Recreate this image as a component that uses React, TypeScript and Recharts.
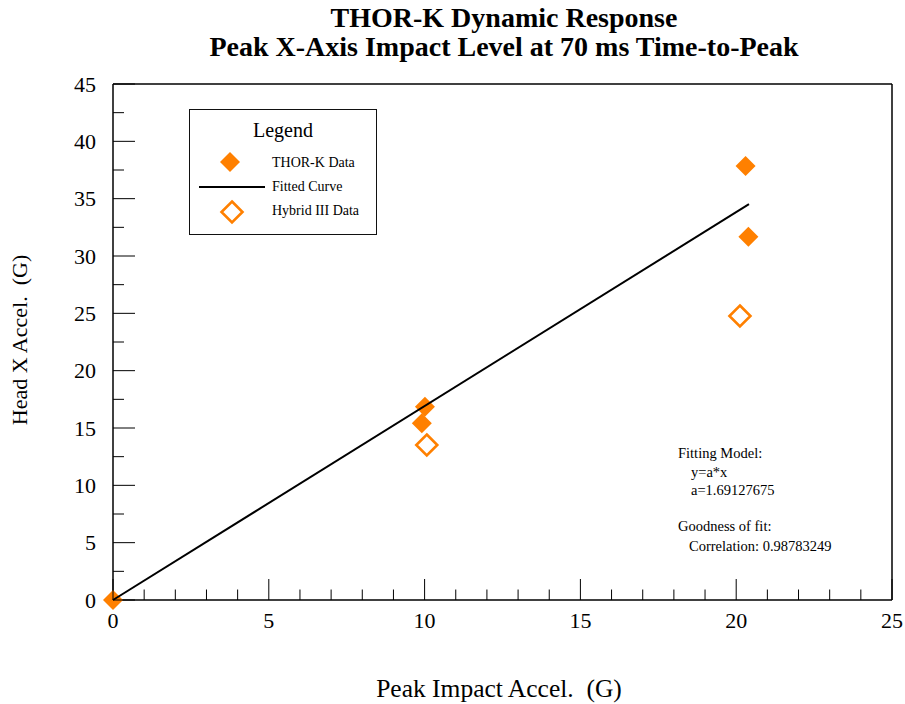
import React from 'react';
import { ComposedChart, Scatter, XAxis, YAxis, ReferenceLine, Legend } from 'recharts';

// values
const thorKData = [
  { x: 0, y: 0 },
  { x: 10.01, y: 16.86 },
  { x: 9.91, y: 15.41 },
  { x: 20.3, y: 37.85 },
  { x: 20.39, y: 31.68 },
];

const hybridIIIData = [
  { x: 10.07, y: 13.52 },
  { x: 20.12, y: 24.77 },
];

// fitted curve y = a*x, end points as drawn
const fittedCurve = [
  { x: 0, y: 0 },
  { x: 20.41, y: 34.52 },
];

const xTicks = [0, 1, 2, 3, 4, 5, 6, 7, 8, 9, 10, 11, 12, 13, 14, 15, 16, 17, 18, 19, 20, 21, 22, 23, 24, 25];
const yTicks = [0, 2.5, 5, 7.5, 10, 12.5, 15, 17.5, 20, 22.5, 25, 27.5, 30, 32.5, 35, 37.5, 40, 42.5, 45];

const titleLines = ['THOR-K Dynamic Response', 'Peak X-Axis Impact Level at 70 ms Time-to-Peak'];
const legendLabels = ['THOR-K Data', 'Fitted Curve', 'Hybrid III Data'];
const fitNotes = ['Fitting Model:', 'y=a*x', 'a=1.69127675', 'Goodness of fit:', 'Correlation: 0.98783249'];

const SERIF = '"Liberation Serif", "Times New Roman", serif';
const ORANGE = '#ff8000';

// where each note line sits (left, baseline)
const noteLayout = [
  { left: 678, base: 458 },
  { left: 691, base: 477 },
  { left: 691, base: 495.5 },
  { left: 678, base: 531.5 },
  { left: 689, base: 551.5 },
];

const XTick = (props: any) => {
  const { x, y, payload } = props;
  const v = payload.value;
  const major = v % 5 === 0;
  return (
    <g>
      <line x1={x} x2={x} y1={y} y2={y - (major ? 21 : 10.5)} stroke="#000" strokeWidth={1} />
      {major && (
        <text x={x} y={y + 28} textAnchor="middle" fontSize={22} fontFamily={SERIF} fill="#000">
          {v}
        </text>
      )}
    </g>
  );
};

const YTick = (props: any) => {
  const { x, y, payload } = props;
  const v = payload.value;
  const major = v % 5 === 0;
  return (
    <g>
      <line x1={x} x2={x + (major ? 22 : 11)} y1={y} y2={y} stroke="#000" strokeWidth={1} />
      {major && (
        <text x={x - 17} y={y + 7.7} textAnchor="end" fontSize={22} fontFamily={SERIF} fill="#000">
          {v}
        </text>
      )}
    </g>
  );
};

const diamond = (cx: number, cy: number, r: number) =>
  `${cx},${cy - r} ${cx + r},${cy} ${cx},${cy + r} ${cx - r},${cy}`;

const FilledDiamond = (props: any) => <polygon points={diamond(props.cx, props.cy, 10)} fill={ORANGE} />;

const HollowDiamond = (props: any) => (
  <polygon points={diamond(props.cx, props.cy, 10.5)} fill="#fff" stroke={ORANGE} strokeWidth={2.6} />
);

const NoDot = () => <g />;

const LegendBox = () => (
  <div
    style={{
      width: 188,
      height: 126,
      boxSizing: 'border-box',
      border: '1.5px solid #111',
      background: '#fff',
      position: 'relative',
      fontFamily: SERIF,
      color: '#000',
    }}
  >
    <div style={{ position: 'absolute', left: 0, right: 0, top: 9, textAlign: 'center', fontSize: 20, lineHeight: '22px' }}>
      Legend
    </div>
    <svg width={188} height={126} style={{ position: 'absolute', left: -1.5, top: -1.5 }}>
      <polygon points={diamond(41, 53, 10)} fill={ORANGE} />
      <line x1={10} x2={76} y1={78} y2={78} stroke="#000" strokeWidth={2} />
      <polygon points={diamond(43, 103, 10.5)} fill="#fff" stroke={ORANGE} strokeWidth={2.6} />
    </svg>
    {legendLabels.map((label, i) => (
      <div
        key={label}
        style={{ position: 'absolute', left: 82, top: [45, 69, 93][i], fontSize: 14, lineHeight: '16px', whiteSpace: 'nowrap' }}
      >
        {label}
      </div>
    ))}
  </div>
);

export default function App() {
  return (
    <div
      style={{
        position: 'absolute',
        left: 0,
        top: 0,
        width: 905,
        height: 704,
        overflow: 'hidden',
        background: '#fff',
        fontFamily: SERIF,
        color: '#000',
      }}
    >
      <div
        style={{
          position: 'absolute',
          left: 102,
          width: 804,
          top: 3,
          textAlign: 'center',
          fontWeight: 'bold',
          fontSize: 28,
          lineHeight: '29px',
          whiteSpace: 'nowrap',
        }}
      >
        {titleLines.map((t) => (
          <div key={t}>{t}</div>
        ))}
      </div>

      <ComposedChart width={905} height={704} margin={{ top: 84, right: 13, bottom: 74, left: 53 }}>
        <XAxis
          type="number"
          dataKey="x"
          domain={[0, 25]}
          ticks={xTicks}
          interval={0}
          height={30}
          tickSize={0}
          tickMargin={0}
          tickLine={false}
          tick={<XTick />}
          axisLine={{ stroke: '#000', strokeWidth: 1.5 }}
        />
        <YAxis
          type="number"
          dataKey="y"
          domain={[0, 45]}
          ticks={yTicks}
          interval={0}
          width={60}
          tickSize={0}
          tickMargin={0}
          tickLine={false}
          tick={<YTick />}
          axisLine={{ stroke: '#000', strokeWidth: 1.5 }}
        />
        <ReferenceLine y={45} stroke="#000" strokeWidth={1.5} />
        <ReferenceLine x={25} stroke="#000" strokeWidth={1.5} />
        <Scatter name="THOR-K Data" data={thorKData} shape={<FilledDiamond />} isAnimationActive={false} />
        <Scatter
          name="Fitted Curve"
          data={fittedCurve}
          shape={<NoDot />}
          line={{ stroke: '#000', strokeWidth: 2 }}
          isAnimationActive={false}
        />
        <Scatter name="Hybrid III Data" data={hybridIIIData} shape={<HollowDiamond />} isAnimationActive={false} />
        <Legend
          layout="vertical"
          align="center"
          verticalAlign="middle"
          content={<LegendBox />}
          wrapperStyle={{ left: 189, top: 109, width: 188, height: 126 }}
        />
      </ComposedChart>

      {fitNotes.map((t, i) => (
        <div
          key={t}
          style={{
            position: 'absolute',
            left: noteLayout[i].left,
            top: noteLayout[i].base - 12.2,
            fontSize: 14.5,
            lineHeight: '15px',
            whiteSpace: 'nowrap',
          }}
        >
          {t}
        </div>
      ))}

      <div
        style={{
          position: 'absolute',
          left: 299,
          width: 400,
          top: 676,
          textAlign: 'center',
          fontSize: 25.5,
          lineHeight: '25px',
          whiteSpace: 'pre',
        }}
      >
        {'Peak Impact Accel.  (G)'}
      </div>

      <div
        style={{
          position: 'absolute',
          left: 20 - 150,
          top: 340 - 15,
          width: 300,
          height: 30,
          textAlign: 'center',
          fontSize: 22,
          lineHeight: '30px',
          whiteSpace: 'pre',
          transform: 'rotate(-90deg)',
        }}
      >
        {'Head X Accel.  (G)'}
      </div>
    </div>
  );
}
